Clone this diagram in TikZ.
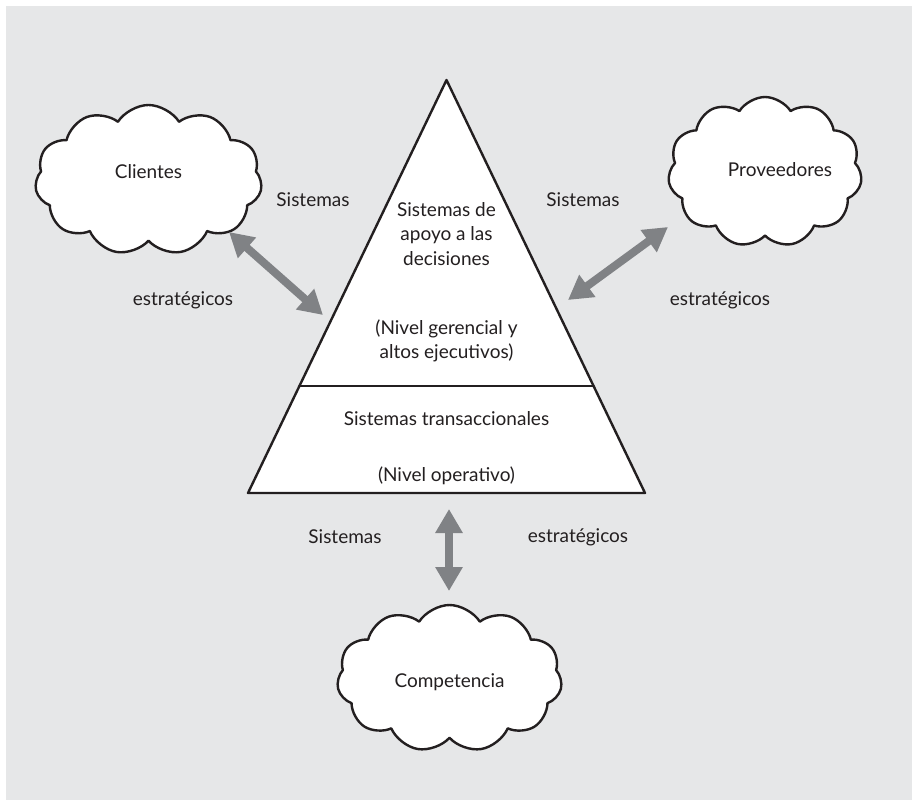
\documentclass[tikz,border=0pt]{standalone}
\usepackage{fontspec}
\setmainfont{Lato}
\usetikzlibrary{shapes.symbols,arrows.meta,calc}
\definecolor{fondo}{RGB}{230,231,232}
\definecolor{flecha}{RGB}{128,130,133}
\definecolor{texto}{RGB}{35,31,32}
\begin{document}
\begin{tikzpicture}[x=1pt,y=-1pt,font=\fontsize{19}{24.5}\selectfont,text=texto,line join=round,line cap=round,
	nube/.style={cloud,cloud puffs=11,cloud puff arc=115,cloud ignores aspect,draw=texto,line width=2.4pt,fill=white,inner sep=0pt},
	doble/.style={draw=flecha,line width=8pt,line cap=butt,{Triangle[width=26pt,length=24pt]}-{Triangle[width=26pt,length=24pt]}}]
		\fill[white] (0,0) rectangle (912,800);
		\fill[fondo] (6,6) rectangle (912,800);
		\coordinate (vertice) at (446.5,80);
		\coordinate (bizq) at (248,493);
		\coordinate (bder) at (645,493);
		\draw[fill=white,line width=2.4pt,draw=texto] (vertice)--(bder)--(bizq)--cycle;
		\draw[line width=2.4pt,draw=texto] ($(vertice)!0.741!(bizq)$)--($(vertice)!0.741!(bder)$);
		\node[align=center] (dec) at (446.5,234) {Sistemas de\\apoyo a las\\decisiones};
		\node[align=center] (ger) at (446.5,341) {(Nivel gerencial y\\altos ejecutivos)};
		\node (tra) at (446.5,419) {Sistemas transaccionales};
		\node (ope) at (446.5,476) {(Nivel operativo)};
		\node[nube,minimum width=227pt,minimum height=150pt,label={[name=clitxt,yshift=8pt]center:Clientes}] (cli) at (148.5,180) {};
		\node[nube,minimum width=194pt,minimum height=150pt,label={[name=protxt,xshift=15pt,yshift=2pt]center:Proveedores}] (pro) at (765,172) {};
		\node[nube,minimum width=225pt,minimum height=147pt,label={[name=comtxt,yshift=-4pt]center:Competencia}] (com) at (449.5,678.5) {};
		\coordinate (a1) at (229,232); \coordinate (a2) at (323,315);
		\coordinate (b1) at (568,300); \coordinate (b2) at (668,227);
		\coordinate (c1) at (449,509); \coordinate (c2) at (449,591);
		\draw[doble] (a1)--(a2);
		\draw[doble] (b1)--(b2);
		\draw[doble] (c1)--(c2);
		\node (s1) at (313,200) {Sistemas};
		\node (e1) at (183,300) {estratégicos};
		\node (s2) at (583,200) {Sistemas};
		\node (e2) at (720,300) {estratégicos};
		\node (s3) at (345,537) {Sistemas};
		\node (e3) at (578,537) {estratégicos};
\end{tikzpicture}
\end{document}
